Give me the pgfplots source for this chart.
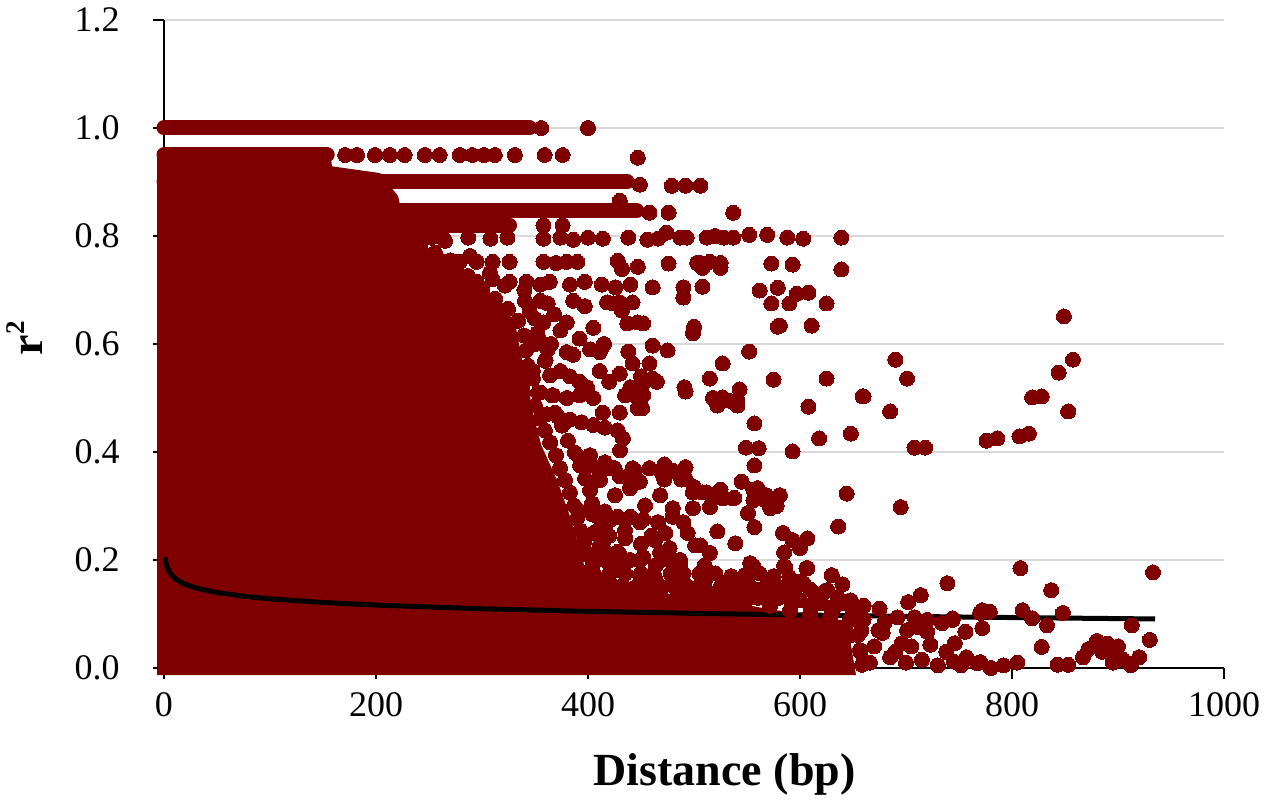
\documentclass[border=0pt]{standalone}
\usepackage{fontspec}
\setmainfont{Liberation Serif}
\usepackage{pgfplots}
\pgfplotsset{compat=1.18}
\definecolor{dred}{RGB}{127,0,0}
\definecolor{gridc}{RGB}{217,217,217}
\begin{document}
\begin{tikzpicture}
\useasboundingbox (-82pt,-66.5pt) rectangle (551.5pt,334pt);
\begin{axis}[
  scale only axis, width=530pt, height=324pt,
  xmin=0, xmax=1000, ymin=0, ymax=1.2,
  clip=false,
  axis lines=left,
  axis line style={black, line width=1pt, -},
  xtick={0,200,400,600,800,1000},
  ytick={0,0.2,0.4,0.6,0.8,1.0,1.2},
  ymajorgrids, grid style={gridc, line width=1pt},
  tick align=outside, major tick length=5.5pt,
  tick style={black, line width=1pt},
  /pgf/number format/assume math mode=true,
  /pgf/number format/1000 sep={},
  ticklabel style={font=\fontsize{18pt}{20pt}\selectfont},
  yticklabel style={anchor=east, inner sep=0pt, xshift=-16.5pt, /pgf/number format/fixed, /pgf/number format/fixed zerofill, /pgf/number format/precision=1},
  xticklabel style={anchor=north, inner sep=0pt, yshift=-6.5pt},
  xlabel={Distance (bp)},
  ylabel={r\raisebox{9pt}{\fontsize{13.5pt}{14pt}\selectfont 2}},
  label style={font=\fontsize{23pt}{25pt}\selectfont\bfseries},
  xlabel style={at={(axis description cs:0.529,0)}, anchor=base, yshift=-59pt},
  ylabel style={at={(axis description cs:0,0.509)}, anchor=base, yshift=60.5pt},
]
% dense core of the scatter
\addplot[fill=dred, draw=none] coordinates {
(-6.6,-0.013) (-6.6,0.957) (156.6,0.957) (158.5,0.929) (203.8,0.9165) (220.8,0.874)
(230.2,0.791) (269.8,0.763) (296.2,0.7135) (317,0.680) (331.1,0.6396) (338,0.569)
(345,0.523) (346,0.486) (356,0.412) (371,0.3475) (382,0.2865) (392,0.222)
(398.1,0.1775) (423.6,0.148) (517.9,0.129) (565.1,0.111) (644.3,0.087) (652.8,-0.013)
};
% contiguous rows of points
\addplot[dred, line width=7.5pt, line cap=round] coordinates {(0,1) (345,1)};
\addplot[dred, line width=7.5pt, line cap=round] coordinates {(0,0.95) (154,0.95)};
\addplot[dred, line width=7.5pt, line cap=round] coordinates {(0,0.9) (437,0.9)};
\addplot[dred, line width=7.5pt, line cap=round] coordinates {(223,0.847) (446,0.847)};
\addplot[dred, line width=7.5pt, line cap=round] coordinates {(223,0.82) (326,0.82)};
% scattered points
\addplot[only marks, mark=*, mark size=3.75pt, mark options={draw=dred, fill=dred, line width=0pt}] coordinates {
(356,1) (400,1)
(171,0.95) (182,0.95) (199,0.95) (213,0.95) (227,0.95) (246,0.95) (260,0.95) (279,0.95) (291,0.95) (302,0.95) (312,0.95) (331,0.95) (359,0.95) (376,0.95) (447,0.945)
(449,0.895) (479,0.893) (492,0.893) (506,0.893)
(458,0.843) (476,0.843) (537,0.843) (430,0.865)
(358,0.82) (376,0.82) (215,0.856) (224.5,0.824)
(229,0.797) (240,0.797) (252,0.797) (263,0.797) (287,0.797) (308,0.795) (324,0.797) (358,0.795) (374,0.797) (386,0.793) (400,0.797) (414,0.795) (438,0.797) (456,0.793) (466,0.795) (474,0.806) (487,0.797) (493,0.797) (512,0.797) (520,0.8) (528,0.797) (537,0.797) (552,0.802) (569,0.802) (588,0.797) (603,0.795) (639,0.797)
(233,0.755) (245,0.755) (258,0.755) (270,0.755) (279,0.752) (295,0.752) (310,0.752) (326,0.752) (358,0.752) (370,0.75) (380,0.752) (390,0.752) (428,0.754) (432,0.739) (447,0.743) (476,0.749) (503,0.75) (506,0.75) (515,0.752) (525,0.75) (508,0.741) (525,0.741) (573,0.749) (593,0.747) (639,0.738)
(254,0.72) (265,0.715) (276,0.71) (287,0.72) (295,0.715) (310,0.72) (326,0.715) (342,0.715) (355,0.71) (364,0.715) (383,0.71) (397,0.715) (413,0.71) (426,0.705) (440,0.71) (461,0.705) (490,0.705) (508,0.706) (562,0.699) (579,0.704) (597,0.693) (608,0.695) (490,0.686) (573,0.675) (590,0.675) (625,0.675)
(355,0.68) (362,0.675) (386,0.68) (397,0.67) (418,0.677) (430,0.677) (442,0.677) (424,0.675) (358,0.64) (374,0.625) (432,0.662) (437,0.638) (447,0.64) (452,0.638) (500,0.632) (579,0.632) (611,0.634) (499,0.62) (581,0.634)
(345,0.66) (350,0.6) (348,0.55) (352,0.62) (340,0.7) (365,0.6) (368,0.655) (380,0.64) (392,0.61) (405,0.63) (415,0.6) (360,0.57)
(362,0.59) (380,0.585) (386,0.58) (402,0.59) (411,0.585) (413,0.593) (438,0.586) (461,0.597) (475,0.588) (552,0.586) (690,0.571) (442,0.564) (458,0.564) (527,0.564)
(374,0.55) (383,0.54) (392,0.53) (399,0.52) (411,0.55) (420,0.53) (430,0.545) (440,0.52) (450,0.54) (465,0.53) (491,0.52) (461,0.536) (515,0.536) (575,0.534) (625,0.536) (701,0.536) (452,0.527) (435,0.505) (444,0.505) (452,0.505) (492,0.512) (543,0.516) (527,0.501) (522,0.486) (541,0.486) (447,0.481) (451,0.481) (414,0.473) (430,0.473) (608,0.484) (659,0.503) (685,0.475) (526,0.495) (541,0.495)
(355,0.51) (367,0.505) (380,0.5) (392,0.505) (405,0.5) (518,0.5) (533,0.495)
(361,0.47) (372,0.465) (383,0.46) (394,0.455) (405,0.45) (416,0.445) (428,0.44) (433,0.425) (557,0.453) (549,0.408) (561,0.407) (593,0.401) (618,0.425) (648,0.434) (708,0.408) (718,0.408)
(392,0.39) (402,0.375) (411,0.36) (421,0.37) (430,0.355) (440,0.36) (449,0.345) (458,0.37) (470,0.36) (480,0.365) (492,0.35) (500,0.335) (512,0.325) (525,0.33) (538,0.315) (545,0.345) (556,0.33) (568,0.32) (578,0.3) (644,0.323) (557,0.375) (411,0.372) (425,0.37) (442,0.37) (472,0.377) (492,0.372) (472,0.349) (488,0.349) (499,0.325) (508,0.325) (518,0.314) (527,0.314) (537,0.314) (560,0.333) (556,0.311) (567,0.311) (578,0.311) (515,0.298) (480,0.296) (499,0.296) (551,0.287) (572,0.296) (695,0.298) (581,0.32)
(557,0.261) (636,0.262) (392,0.29) (404,0.285) (416,0.29) (428,0.28) (440,0.28) (452,0.275) (466,0.27) (480,0.28) (490,0.27) (473,0.25) (494,0.25) (522,0.253) (539,0.231) (506,0.227) (477,0.222) (515,0.213) (510,0.19) (593,0.237) (600,0.222) (585,0.214) (556,0.189) (585,0.189) (607,0.185) (392,0.22) (404,0.21) (416,0.2) (428,0.215) (440,0.2) (452,0.205) (464,0.19) (476,0.2) (487,0.19) (553,0.194) (584,0.25) (607,0.24) (405,0.25) (420,0.245) (435,0.24) (450,0.23) (460,0.245)
(630,0.172) (640,0.155) (739,0.157) (714,0.135) (702,0.122) (405,0.175) (420,0.175) (435,0.175) (450,0.175) (462,0.175) (478,0.175) (490,0.175) (505,0.175) (520,0.175) (535,0.17) (548,0.172) (562,0.175) (575,0.17) (590,0.168) (603,0.157) (430,0.15) (445,0.15) (458,0.15) (470,0.15) (482,0.15) (495,0.15) (510,0.15) (525,0.15) (540,0.15) (553,0.15) (568,0.15) (580,0.15) (596,0.15) (610,0.145) (622,0.14) (636,0.13) (648,0.125) (540,0.13) (560,0.13) (580,0.13) (600,0.125) (620,0.12) (660,0.115) (675,0.11)
(468,0.14) (480,0.155) (487,0.13) (499,0.145) (510,0.16) (520,0.135) (530,0.155) (550,0.165) (560,0.145) (575,0.16) (590,0.145) (600,0.16) (615,0.13) (625,0.144) (640,0.12) (650,0.105) (630,0.105) (610,0.11) (603,0.155) (626,0.144) (588,0.139) (593,0.139) (586,0.187) (606,0.185)
(658,0.07) (674,0.07) (678,0.065) (696,0.046) (701,0.07) (692,0.094) (708,0.094) (720,0.067) (723,0.043) (744,0.092) (734,0.083) (756,0.067) (746,0.046) (685,0.02) (700,0.01) (715,0.015) (730,0.005) (745,0.012) (757,0.02) (770,0.011) (770,0.102) (647,0.06) (657,0.03) (666,0.01) (660,0.09) (670,0.04) (680,0.085) (690,0.03) (705,0.04) (712,0.075) (738,0.03) (752,0.005) (767,0.009) (780,0.0) (792,0.005) (805,0.01) (772,0.074) (828,0.039) (833,0.079) (819,0.092) (810,0.107) (843,0.006) (853,0.006) (848,0.102) (867,0.02) (872,0.035) (880,0.05) (885,0.03) (895,0.01) (900,0.04) (905,0.015) (912,0.005) (920,0.02) (913,0.079) (930,0.052) (933,0.177) (808,0.185) (837,0.144) (772,0.107) (779,0.104) (720,0.089) (744,0.089) (890,0.045) (897,0.03)
(849,0.651) (857.5,0.571) (844,0.547) (853,0.475) (819,0.501) (828,0.503) (807,0.429) (816,0.434) (776,0.421) (786,0.425) (660,0.503)
(234,0.810) (241.5,0.782) (255.7,0.769) (274.5,0.750) (286.8,0.726) (300,0.702) (312.3,0.684) (324.5,0.665) (334,0.643) (339.6,0.616) (341.5,0.588) (343.4,0.560) (348.1,0.536) (352.8,0.510) (350,0.486) (354.7,0.462) (359.4,0.440) (364.2,0.418) (369.8,0.394) (373.6,0.370) (378.3,0.348) (383,0.325) (386.8,0.301) (389.6,0.277) (392.5,0.255) (396.2,0.233) (400,0.209) (403.8,0.187) (409.4,0.166) (420.8,0.157) (434.9,0.148) (449,0.144) (468,0.140) (486.8,0.137) (505.7,0.133) (529.2,0.129) (548.1,0.122) (571.7,0.115) (590.6,0.107) (609.4,0.100) (628.3,0.094) (647.2,0.089) (654.7,0.061) (656.6,0.033) (658.5,0.006)
(265.1,0.791) (288.7,0.763) (307.5,0.732) (321.7,0.708) (340.6,0.680) (350,0.647) (354.7,0.606) (359.4,0.569) (364.2,0.542) (366,0.505) (368.9,0.473) (375.5,0.449) (381.1,0.421) (387.7,0.399) (392.5,0.375) (397.2,0.351) (401.9,0.329) (403.8,0.305) (407.5,0.283) (411.3,0.259) (415.1,0.237) (417,0.214) (422.6,0.196) (430.2,0.181) (449,0.172) (463.2,0.166) (482.1,0.159) (505.7,0.153) (524.5,0.148) (548.1,0.144) (567,0.137) (590.6,0.129) (614.2,0.122) (633,0.115)
(401.9,0.394) (416,0.381) (430.2,0.403) (444.3,0.366) (411.3,0.348) (425.5,0.320) (439.6,0.333) (453.8,0.301) (468,0.320) (420.8,0.274) (434.9,0.255) (449,0.270) (463.2,0.237) (411.3,0.227) (430.2,0.209) (449,0.200) (468,0.214) (486.8,0.200) (501,0.227)
};
% logarithmic trend line
\addplot[black, line width=2.5pt] coordinates {
(1,0.205) (2,0.1934) (3,0.1866) (5,0.1781) (7,0.1725) (10,0.1665) (15,0.1598) (20,0.1550)
(30,0.1482) (50,0.1397) (75,0.1329) (100,0.1281) (150,0.1213) (200,0.1165) (300,0.1097)
(400,0.1049) (500,0.1012) (600,0.0982) (700,0.0956) (800,0.0934) (935,0.0908)
};
\end{axis}
\end{tikzpicture}
\end{document}
